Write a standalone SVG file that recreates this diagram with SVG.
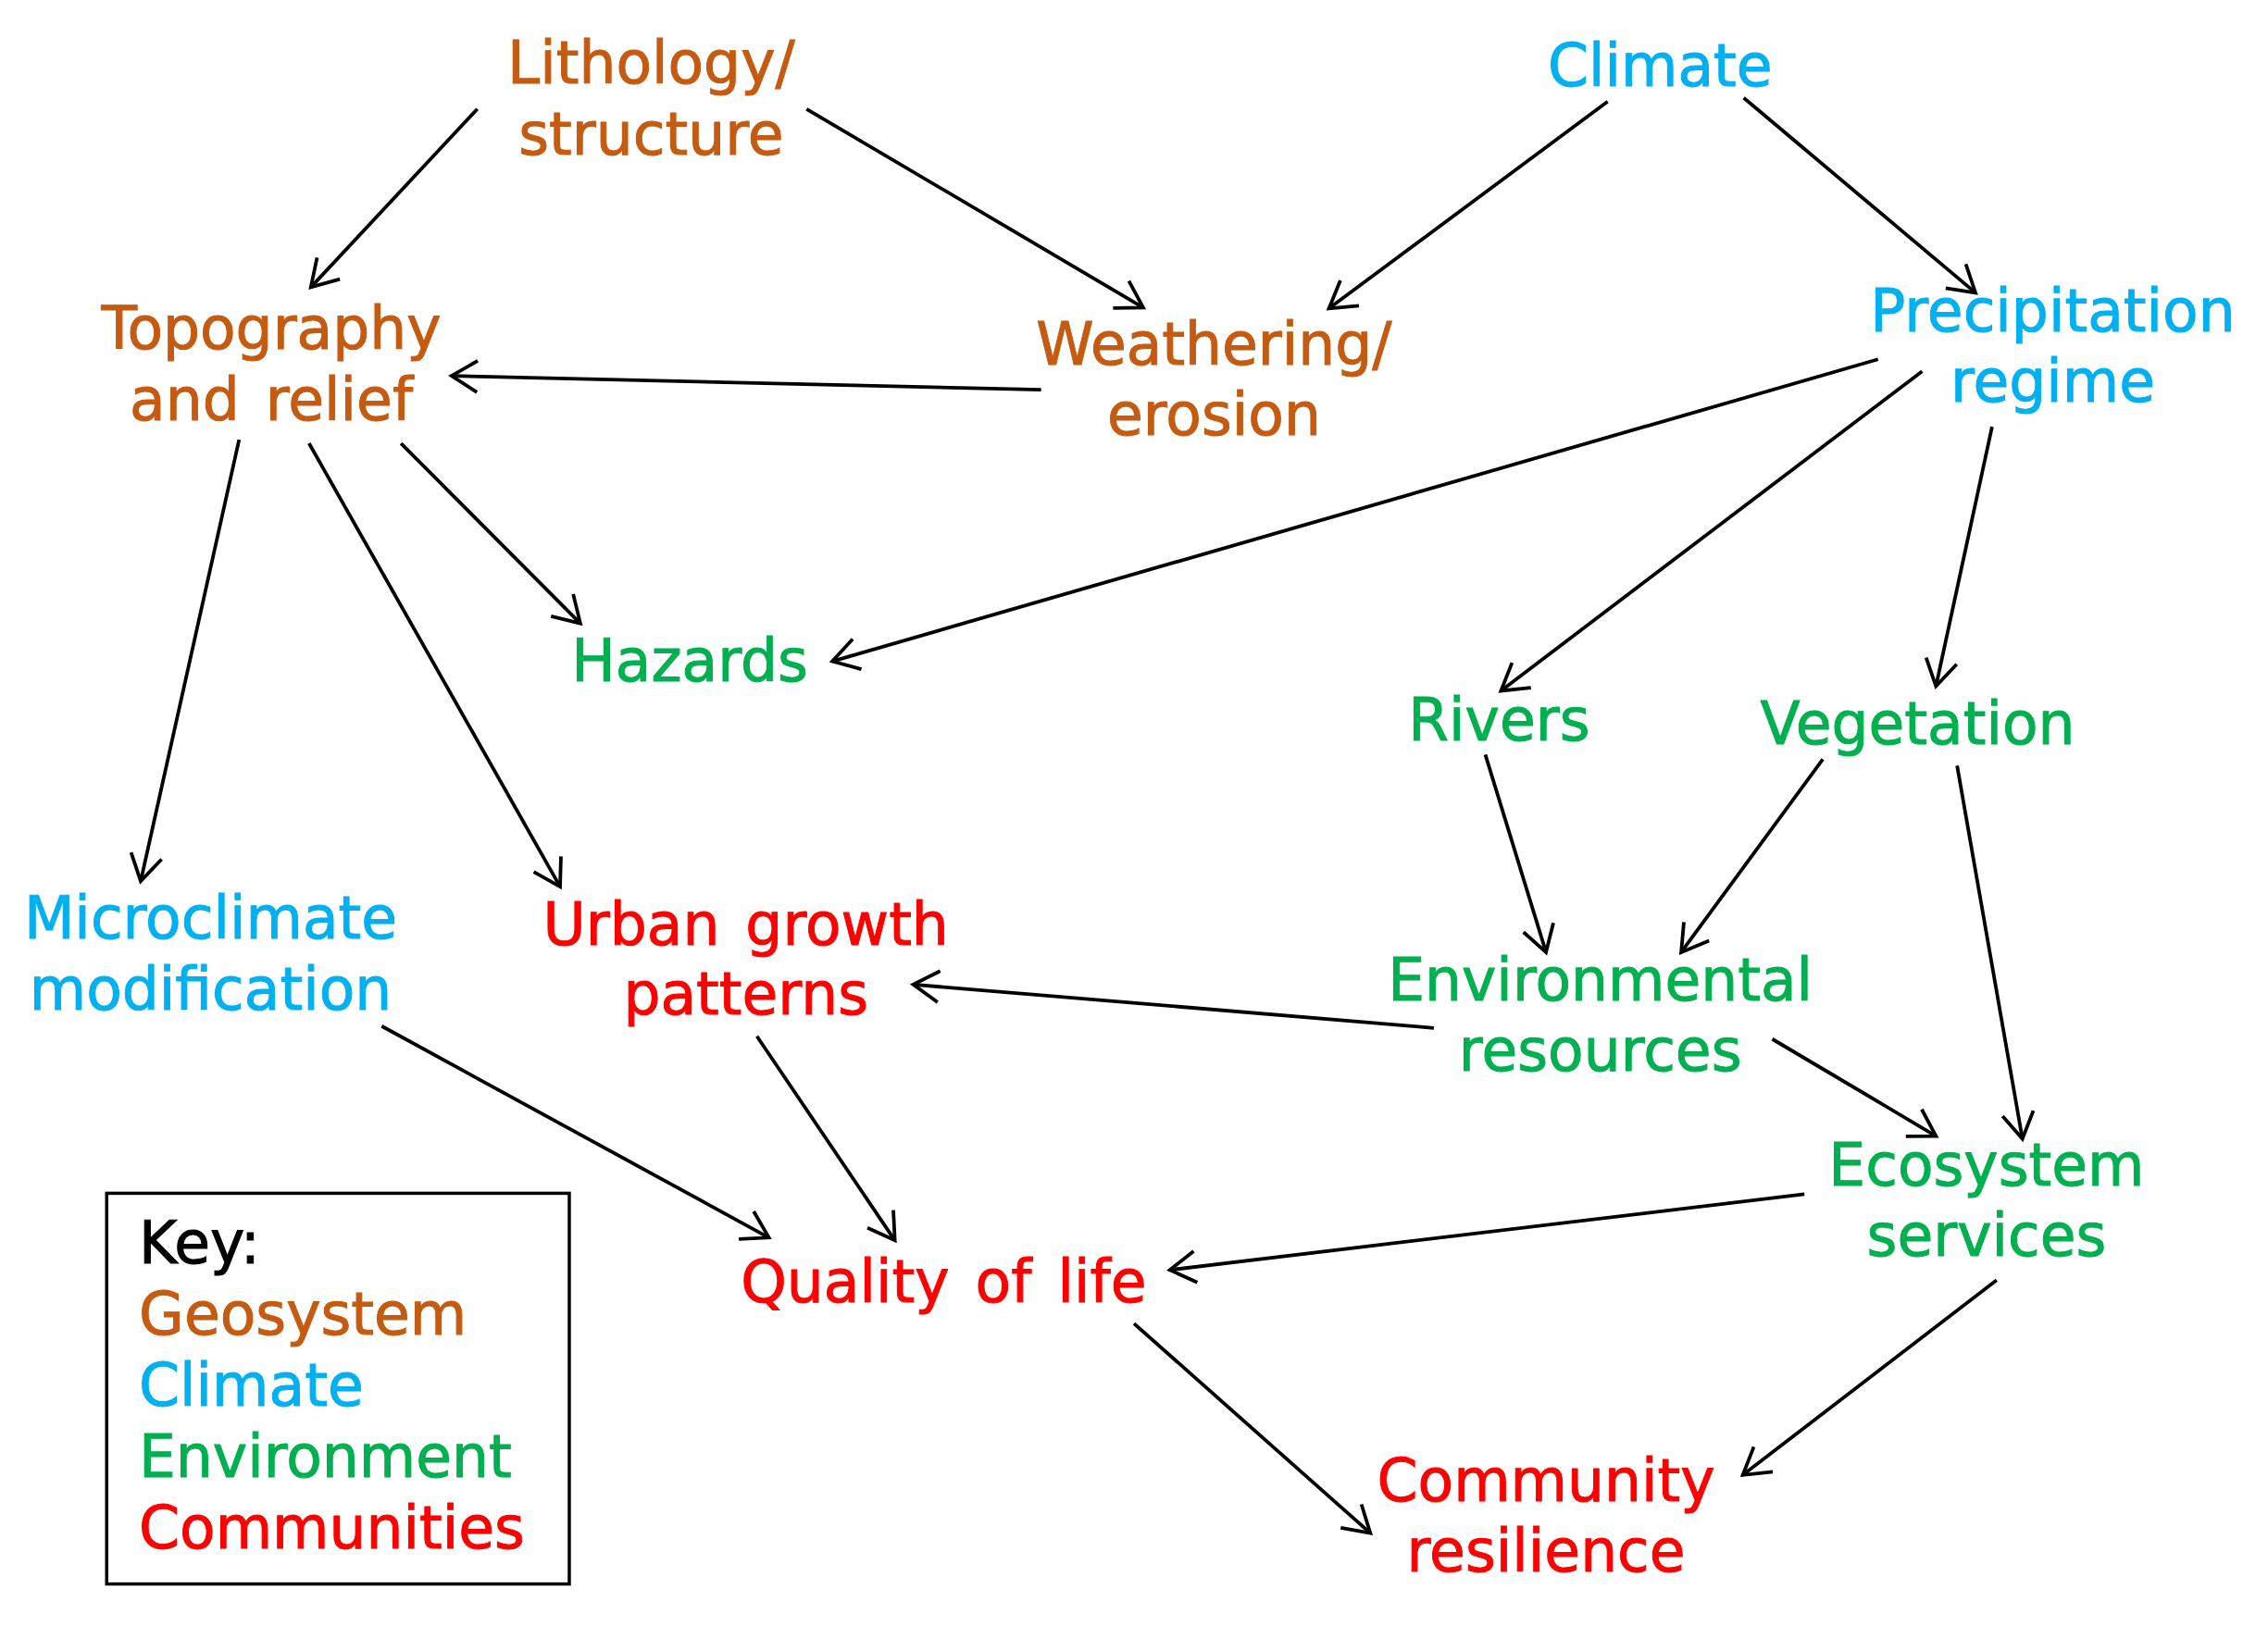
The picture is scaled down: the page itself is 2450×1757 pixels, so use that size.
<svg xmlns="http://www.w3.org/2000/svg" width="2450" height="1757" viewBox="0 0 2450 1757">
<style>
text{font-family:"DejaVu Sans","Verdana",sans-serif;font-size:63.5px;text-anchor:middle;word-spacing:8px;stroke-width:1px}
.geo{fill:#C55A11;stroke:#C55A11}.cli{fill:#00B0F0;stroke:#00B0F0}.env{fill:#00B050;stroke:#00B050}.com{fill:#FF0000;stroke:#FF0000}.key{fill:#000;stroke:#000}
.k text{text-anchor:start}
.e line{stroke:#000;stroke-width:3.8;fill:none;marker-end:url(#ah)}
</style>
<defs>
<marker id="ah" markerUnits="userSpaceOnUse" viewBox="-34 -20 38 40" refX="0" refY="0" markerWidth="38" markerHeight="40" orient="auto" overflow="visible">
<path d="M-28,-17 L0,0 L-28,17" fill="none" stroke="#000" stroke-width="3.8" stroke-linejoin="miter"/>
</marker>
</defs>
<rect width="2450" height="1757" fill="#fff"/>
<g transform="scale(0.9935 0.998)">
<g id="connectors" class="e">
<line x1="519" y1="118" x2="338" y2="311"/>
<line x1="877" y1="118" x2="1243" y2="333"/>
<line x1="1748" y1="110" x2="1445" y2="334"/>
<line x1="1896" y1="106" x2="2148" y2="317"/>
<line x1="1132" y1="422" x2="491" y2="407"/>
<line x1="2042" y1="389" x2="905" y2="716"/>
<line x1="2090" y1="402" x2="1632" y2="748"/>
<line x1="2166" y1="462" x2="2105" y2="743"/>
<line x1="436" y1="480" x2="631" y2="675"/>
<line x1="260" y1="476" x2="153" y2="954"/>
<line x1="336" y1="480" x2="609" y2="960"/>
<line x1="1615" y1="817" x2="1681" y2="1031"/>
<line x1="1982" y1="822" x2="1828" y2="1031"/>
<line x1="2128" y1="829" x2="2199" y2="1233"/>
<line x1="1559" y1="1113" x2="993" y2="1066"/>
<line x1="1927" y1="1125" x2="2105" y2="1230"/>
<line x1="415" y1="1111" x2="836" y2="1340"/>
<line x1="823" y1="1122" x2="973" y2="1343"/>
<line x1="1962" y1="1293" x2="1272" y2="1375"/>
<line x1="1233" y1="1433" x2="1490" y2="1660"/>
<line x1="2171" y1="1386" x2="1895" y2="1597"/>
</g>
<g id="lithology"><text class="geo" x="708" y="90">Lithology/</text><text class="geo" x="708" y="167">structure</text></g>
<g id="climate"><text class="cli" x="1805" y="93">Climate</text></g>
<g id="topography"><text class="geo" x="295" y="378">Topography</text><text class="geo" x="295" y="455">and relief</text></g>
<g id="weathering"><text class="geo" x="1320" y="395">Weathering/</text><text class="geo" x="1320" y="471">erosion</text></g>
<g id="precipitation"><text class="cli" x="2232" y="359">Precipitation</text><text class="cli" x="2232" y="435">regime</text></g>
<g id="hazards"><text class="env" x="750" y="737">Hazards</text></g>
<g id="rivers"><text class="env" x="1630" y="802">Rivers</text></g>
<g id="vegetation"><text class="env" x="2085" y="806">Vegetation</text></g>
<g id="microclimate"><text class="cli" x="229" y="1016">Microclimate</text><text class="cli" x="229" y="1093">modification</text></g>
<g id="urban"><text class="com" x="811" y="1023">Urban growth</text><text class="com" x="811" y="1098">patterns</text></g>
<g id="environmental"><text class="env" x="1740" y="1083">Environmental</text><text class="env" x="1740" y="1159">resources</text></g>
<g id="ecosystem"><text class="env" x="2160" y="1284">Ecosystem</text><text class="env" x="2160" y="1360">services</text></g>
<g id="quality"><text class="com" x="1026" y="1410">Quality of life</text></g>
<g id="community"><text class="com" x="1681" y="1625">Community</text><text class="com" x="1681" y="1701">resilience</text></g>
<g id="key" class="k">
<rect x="116" y="1292" width="503" height="423" fill="none" stroke="#000" stroke-width="3.5"/>
<text class="key" x="151" y="1368">Key:</text>
<text class="geo" x="151" y="1445">Geosystem</text>
<text class="cli" x="151" y="1522">Climate</text>
<text class="env" x="151" y="1599">Environment</text>
<text class="com" x="151" y="1676">Communities</text>
</g>
</g>
</svg>
